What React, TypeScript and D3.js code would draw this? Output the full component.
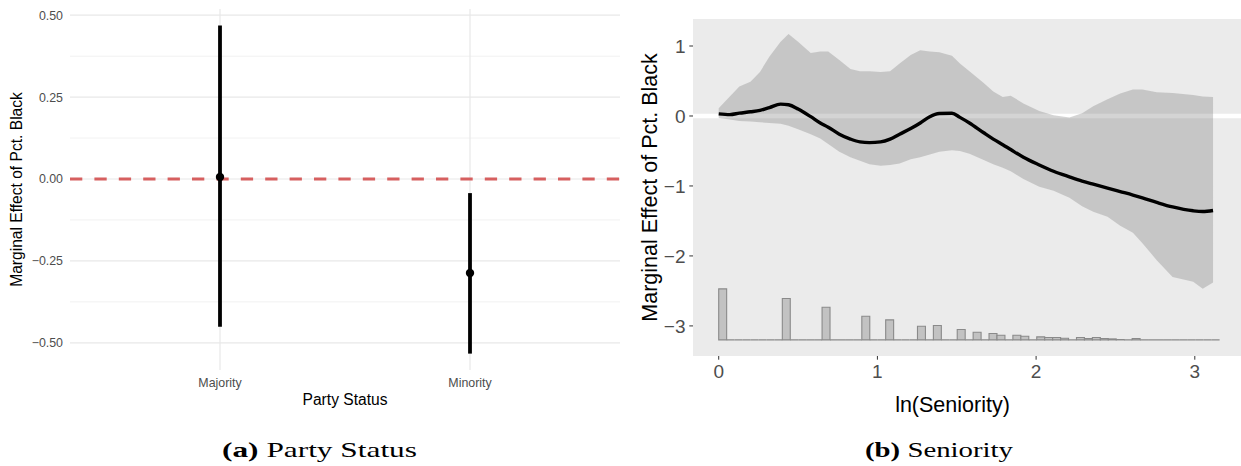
import React, { useRef, useEffect } from "react"
import * as d3 from "d3"

// panel (a): marginal effect by party status
const partyStatus = ["Majority", "Minority"]
const partyEffect = [0.006, -0.287]
const partyLow = [-0.451, -0.533]
const partyHigh = [0.469, -0.043]
const partyTicks = [-0.5, -0.25, 0, 0.25, 0.5]
const partyMinorTicks = [-0.375, -0.125, 0.125, 0.375]

// panel (b): marginal effect over ln(seniority)
const lnSeniority = [0, 0.07, 0.13, 0.2, 0.26, 0.32, 0.39, 0.44, 0.5, 0.58, 0.64, 0.69, 0.76, 0.83, 0.89, 0.95, 1.02, 1.08, 1.14, 1.21, 1.27, 1.33, 1.39, 1.47, 1.52, 1.58, 1.67, 1.73, 1.79, 1.84, 1.92, 2.02, 2.11, 2.21, 2.29, 2.36, 2.45, 2.53, 2.61, 2.67, 2.76, 2.86, 2.99, 3.05, 3.115]
const effectMean = [0.03, 0.02, 0.04, 0.06, 0.08, 0.12, 0.17, 0.16, 0.1, -0.01, -0.1, -0.16, -0.26, -0.33, -0.37, -0.38, -0.37, -0.33, -0.26, -0.18, -0.1, -0.01, 0.035, 0.04, -0.02, -0.1, -0.24, -0.33, -0.41, -0.48, -0.59, -0.7, -0.79, -0.87, -0.93, -0.975, -1.03, -1.08, -1.13, -1.17, -1.235, -1.3, -1.355, -1.365, -1.35]
const effectLower = [-0.03, -0.05, -0.07, -0.08, -0.09, -0.1, -0.11, -0.14, -0.19, -0.26, -0.32, -0.4, -0.51, -0.59, -0.64, -0.69, -0.71, -0.7, -0.68, -0.62, -0.59, -0.55, -0.51, -0.49, -0.5, -0.54, -0.63, -0.69, -0.74, -0.79, -0.9, -1.01, -1.07, -1.17, -1.29, -1.37, -1.44, -1.57, -1.67, -1.82, -2.06, -2.3, -2.37, -2.47, -2.38]
const effectUpper = [0.11, 0.28, 0.42, 0.49, 0.63, 0.85, 1.06, 1.17, 1.06, 0.9, 0.92, 0.92, 0.8, 0.67, 0.64, 0.64, 0.63, 0.64, 0.75, 0.87, 0.94, 0.92, 0.91, 0.86, 0.75, 0.64, 0.47, 0.35, 0.27, 0.29, 0.18, 0.07, 0.01, -0.02, 0.04, 0.14, 0.24, 0.32, 0.38, 0.38, 0.34, 0.33, 0.3, 0.28, 0.27]
const seniorityTicks = [0, 1, 2, 3]
const effectTicks = [-3, -2, -1, 0, 1]

// histogram of ln(seniority), bins from 0
const histStart = 0
const histBinWidth = 0.0501
const histCounts = [
  153, 0, 0, 0, 0, 0, 0, 0, 124, 0,
  0, 0, 0, 98, 0, 0, 0, 0, 71, 0,
  0, 60, 0, 0, 0, 41, 0, 43, 0, 0,
  31, 0, 23, 0, 19, 14, 0, 14, 11, 0,
  9, 7, 7, 5, 0, 7, 4, 7, 4, 3,
  1, 0, 4, 0, 0, 0, 0, 0, 0, 0,
  0, 0, 0,
]
const histBase = -3.2
const histPeak = -2.471

const sans = "'Liberation Sans', Arial, Helvetica, sans-serif"

function drawParty(g) {
  const x = d3.scalePoint().domain(partyStatus).range([70, 620]).padding(0.6)
  const y = d3.scaleLinear().domain([-0.583, 0.519]).range([370, 9])

  g.selectAll(".minor")
    .data(partyMinorTicks)
    .join("line")
    .attr("x1", 70)
    .attr("x2", 620)
    .attr("y1", d => y(d))
    .attr("y2", d => y(d))
    .attr("stroke", "#ededed")
    .attr("stroke-width", 0.8)
  g.selectAll(".major")
    .data(partyTicks)
    .join("line")
    .attr("x1", 70)
    .attr("x2", 620)
    .attr("y1", d => y(d))
    .attr("y2", d => y(d))
    .attr("stroke", "#e8e8e8")
    .attr("stroke-width", 1.2)
  g.selectAll(".vgrid")
    .data(partyStatus)
    .join("line")
    .attr("x1", d => x(d))
    .attr("x2", d => x(d))
    .attr("y1", 9)
    .attr("y2", 370)
    .attr("stroke", "#e8e8e8")
    .attr("stroke-width", 1.2)

  const fmt = d3.format(".2f")
  g.selectAll(".ytick")
    .data(partyTicks)
    .join("text")
    .attr("x", 63)
    .attr("y", d => y(d) + 4.4)
    .attr("text-anchor", "end")
    .attr("font-family", sans)
    .attr("font-size", 12.4)
    .attr("fill", "#4d4d4d")
    .text(d => fmt(d))

  g.append("line")
    .attr("x1", 70)
    .attr("x2", 620)
    .attr("y1", y(0))
    .attr("y2", y(0))
    .attr("stroke", "#d65f5f")
    .attr("stroke-width", 3)
    .attr("stroke-dasharray", "12.3,12.1")

  g.selectAll(".bar")
    .data(partyStatus)
    .join("line")
    .attr("x1", d => x(d))
    .attr("x2", d => x(d))
    .attr("y1", (d, i) => y(partyLow[i]))
    .attr("y2", (d, i) => y(partyHigh[i]))
    .attr("stroke", "#000")
    .attr("stroke-width", 3.8)
  g.selectAll(".pt")
    .data(partyStatus)
    .join("circle")
    .attr("cx", d => x(d))
    .attr("cy", (d, i) => y(partyEffect[i]))
    .attr("r", 4.2)
    .attr("fill", "#000")

  g.selectAll(".xtick")
    .data(partyStatus)
    .join("text")
    .attr("x", d => x(d))
    .attr("y", 386.5)
    .attr("text-anchor", "middle")
    .attr("font-family", sans)
    .attr("font-size", 12.4)
    .attr("fill", "#4d4d4d")
    .text(d => d)

  g.append("text")
    .attr("x", 345)
    .attr("y", 405)
    .attr("text-anchor", "middle")
    .attr("font-family", sans)
    .attr("font-size", 15.6)
    .text("Party Status")
  g.append("text")
    .attr("transform", "translate(22,189.5) rotate(-90)")
    .attr("text-anchor", "middle")
    .attr("font-family", sans)
    .attr("font-size", 15.6)
    .text("Marginal Effect of Pct. Black")
}

function drawSeniority(g) {
  const x = d3.scaleLinear().domain([-0.162, 3.31]).range([693, 1244])
  const y = d3.scaleLinear().domain([-3.43, 1.386]).range([356, 19])

  g.append("rect")
    .attr("x", x(-0.162))
    .attr("y", y(1.386))
    .attr("width", x(3.31) - x(-0.162))
    .attr("height", y(-3.43) - y(1.386))
    .attr("fill", "#ebebeb")

  g.append("line")
    .attr("x1", x(-0.162))
    .attr("x2", x(3.31))
    .attr("y1", y(0))
    .attr("y2", y(0))
    .attr("stroke", "#fff")
    .attr("stroke-width", 4.6)

  const idx = d3.range(lnSeniority.length)
  const band = d3
    .area()
    .x(i => x(lnSeniority[i]))
    .y0(i => y(effectLower[i]))
    .y1(i => y(effectUpper[i]))
  g.append("path")
    .attr("d", band(idx))
    .attr("fill", "#7a7a7a")
    .attr("fill-opacity", 0.32)

  const line = d3
    .line()
    .x(i => x(lnSeniority[i]))
    .y(i => y(effectMean[i]))
    .curve(d3.curveMonotoneX)
  g.append("path")
    .attr("d", line(idx))
    .attr("fill", "none")
    .attr("stroke", "#000")
    .attr("stroke-width", 3.4)

  const h = d3.scaleLinear().domain([0, d3.max(histCounts)]).range([histBase, histPeak])
  g.selectAll(".bin")
    .data(histCounts)
    .join("path")
    .attr("d", (c, i) => {
      const p = d3.path()
      const x0 = x(histStart + i * histBinWidth)
      const x1 = x(histStart + (i + 1) * histBinWidth)
      p.moveTo(x0, y(histBase))
      p.lineTo(x0, y(h(c)))
      p.lineTo(x1, y(h(c)))
      p.lineTo(x1, y(histBase))
      p.closePath()
      return p.toString()
    })
    .attr("fill", "#c2c2c2")
    .attr("stroke", "#8a8a8a")
    .attr("stroke-width", 1.1)

  const fmt = d3.format("d")
  g.selectAll(".yt")
    .data(effectTicks)
    .join("line")
    .attr("x1", 689.3)
    .attr("x2", 693)
    .attr("y1", d => y(d))
    .attr("y2", d => y(d))
    .attr("stroke", "#333")
    .attr("stroke-width", 1)
  g.selectAll(".ytl")
    .data(effectTicks)
    .join("text")
    .attr("x", 685.5)
    .attr("y", d => y(d) + 6.8)
    .attr("text-anchor", "end")
    .attr("font-family", sans)
    .attr("font-size", 19)
    .attr("fill", "#4d4d4d")
    .text(d => fmt(d))
  g.selectAll(".xt")
    .data(seniorityTicks)
    .join("line")
    .attr("x1", d => x(d))
    .attr("x2", d => x(d))
    .attr("y1", 356)
    .attr("y2", 359.7)
    .attr("stroke", "#333")
    .attr("stroke-width", 1)
  g.selectAll(".xtl")
    .data(seniorityTicks)
    .join("text")
    .attr("x", d => x(d))
    .attr("y", 378.3)
    .attr("text-anchor", "middle")
    .attr("font-family", sans)
    .attr("font-size", 19)
    .attr("fill", "#4d4d4d")
    .text(d => fmt(d))

  g.append("text")
    .attr("x", 952.5)
    .attr("y", 411.7)
    .attr("text-anchor", "middle")
    .attr("font-family", sans)
    .attr("font-size", 21.5)
    .text("ln(Seniority)")
  g.append("text")
    .attr("transform", "translate(656.5,187.5) rotate(-90)")
    .attr("text-anchor", "middle")
    .attr("font-family", sans)
    .attr("font-size", 21.5)
    .text("Marginal Effect of Pct. Black")
}

function drawCaption(svg, x0, width, tag, label) {
  const t = svg
    .append("text")
    .attr("x", x0)
    .attr("y", 457)
    .attr("font-family", "'Liberation Serif', 'Times New Roman', serif")
    .attr("font-size", 22)
    .attr("textLength", width)
    .attr("lengthAdjust", "spacingAndGlyphs")
  t.append("tspan").attr("font-weight", "bold").text(tag)
  t.append("tspan").text(" " + label)
}

export default function App() {
  const ref = useRef(null)
  useEffect(() => {
    const svg = d3.select(ref.current)
    svg.selectAll("*").remove()
    drawParty(svg.append("g"))
    drawSeniority(svg.append("g"))
    drawCaption(svg, 222, 195, "(a)", "Party Status")
    drawCaption(svg, 865, 148, "(b)", "Seniority")
  }, [])
  return (
    <svg
      ref={ref}
      width={1241}
      height={466}
      style={{ position: "absolute", left: 0, top: 0, background: "#fff" }}
    ></svg>
  )
}
